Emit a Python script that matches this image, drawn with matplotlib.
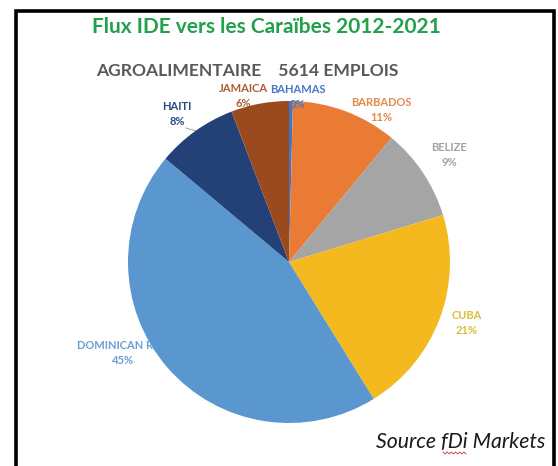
import matplotlib
matplotlib.use("Agg")
import matplotlib.pyplot as plt
from matplotlib.lines import Line2D
import numpy as np

# ---- data ----
countries = ["BAHAMAS", "BARBADOS", "BELIZE", "CUBA", "DOMINICAN REP.", "HAITI", "JAMAICA"]
jobs = [22, 595, 522, 1173, 2521, 455, 326]
slice_colors = ["#4472C4", "#E97B35", "#A5A5A5", "#F4B91E", "#5B97CF", "#234176", "#9A4A1C"]
label_colors = ["#4A76C6", "#E4894C", "#A3A3A3", "#DDBE3A", "#6A9FD2", "#2C4B82", "#A85E30"]
title = "Flux IDE vers les Caraïbes 2012-2021"
subtitle = "AGROALIMENTAIRE    5614 EMPLOIS"
source = "Source fDi Markets"

# ---- layout (pixel positions of label centres) ----
W, H = 558, 466
CX, CY, R = 289, 262, 161
label_pos = [(298, 97), (381, 110), (449, 155), (467, 323), (123, 353), (177, 114), (243, 96)]
label_top = [True, False, False, False, False, False, False]

plt.rcParams['font.family'] = ['Lato', 'DejaVu Sans']
fig = plt.figure(figsize=(W / 100, H / 100), dpi=100)
fig.patch.set_facecolor("white")

def fx(px):
    return px / W

def fy(py):
    return 1 - py / H

# background axes spanning the figure in pixel units, used for the frame
bg = fig.add_axes([0, 0, 1, 1], zorder=-1)
bg.set_xlim(0, W)
bg.set_ylim(H, 0)
bg.axis("off")
bg.plot([16, 16, 554, 554], [480, 11, 11, 480], color="black", linewidth=2.6,
        solid_joinstyle="miter", clip_on=False)

ax = fig.add_axes([(CX - R) / W, (H - CY - R) / H, 2 * R / W, 2 * R / H])
ax.axis("off")
wedges, _ = ax.pie(jobs, colors=slice_colors, startangle=90, counterclock=False,
                   radius=1.0, wedgeprops=dict(linewidth=0, zorder=1))
ax.set_xlim(-1, 1)
ax.set_ylim(-1, 1)

total = sum(jobs)
for name, val, col, (px, py), top in zip(countries, jobs, label_colors, label_pos, label_top):
    pct = f"{round(100 * val / total)}%"
    ax.text((px - CX) / R, (CY - py) / R, f"{name}\n{pct}", ha="center", va="center",
            fontsize=8.0, fontweight="bold", color=col, linespacing=1.45,
            zorder=3 if top else 0.5, clip_on=False)

# leader line for HAITI
ax.add_line(Line2D([(186 - CX) / R, (196 - CX) / R, (204 - CX) / R],
                   [(CY - 128) / R, (CY - 131) / R, (CY - 135) / R],
                   color="#A0A0A0", linewidth=0.7, clip_on=False, zorder=0.6))

fig.text(fx(266), fy(27), title, ha="center", va="center", fontsize=15.0,
         fontweight="bold", color="#22A04B")
fig.text(fx(247.5), fy(71), subtitle, ha="center", va="center", fontsize=12.6,
         fontweight="bold", color="#595959")
fig.text(fx(461), fy(442), source, ha="center", va="center", fontsize=15.3,
         style="italic", color="#1A1A1A")

# spell-check squiggle under "fDi"
zx = np.linspace(443, 466, 12)
zy = np.where(np.arange(12) % 2 == 0, 452, 454)
fig.add_artist(Line2D(fx(zx), fy(zy), color="#D03030", linewidth=0.6))

fig.savefig("out.png", dpi=100, facecolor="white")
